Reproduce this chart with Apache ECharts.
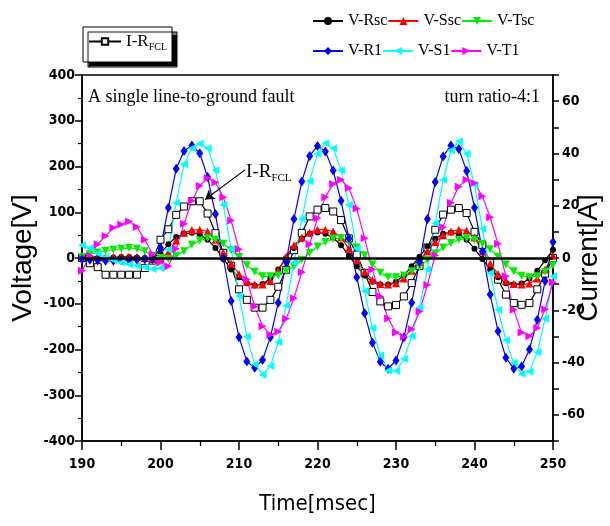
<!DOCTYPE html>
<html>
<head>
<meta charset="utf-8">
<script src="https://cdn.jsdelivr.net/npm/echarts@6/dist/echarts.min.js"></script>
<style>
html,body{margin:0;padding:0;background:#fff}
#chart{width:610px;height:526px}
</style>
</head>
<body>
<div id="chart"></div>
<script>
// time axis, 1 ms steps
const times = [190,191,192,193,194,195,196,197,198,199,200,201,202,203,204,205,206,207,208,209,210,
  211,212,213,214,215,216,217,218,219,220,221,222,223,224,225,226,227,228,229,230,
  231,232,233,234,235,236,237,238,239,240,241,242,243,244,245,246,247,248,249,250];

// voltages [V]
const vRsc = [2,1,0,0,1,2,2,1,0,0,10,30,46,53,55,52,40,22,-2,-25,-42,
  -55,-60,-57,-45,-25,0,22,42,53,56,53,44,28,5,-18,-38,-52,-58,-58,-52,
  -38,-18,3,25,42,53,56,52,40,20,-2,-25,-42,-55,-58,-56,-45,-28,-5,18];
const vSsc = [6,4,2,1,2,3,3,2,0,-2,0,12,38,55,61,62,58,40,12,-12,-35,
  -52,-58,-58,-50,-28,3,28,45,56,62,62,58,45,20,-5,-30,-48,-57,-58,-55,
  -45,-28,-8,15,35,50,58,62,60,45,15,-12,-35,-50,-57,-58,-56,-45,-25,5];
const vTsc = [2,8,12,16,18,20,22,20,15,5,0,-2,5,15,29,38,43,40,31,17,2,
  -16,-30,-40,-40,-38,-29,-18,-4,11,25,35,42,43,36,23,6,-14,-32,-42,-42,
  -38,-29,-19,-4,10,23,33,40,43,40,31,19,3,-14,-29,-39,-42,-40,-30,-16];
const vR1 = [-3,-4,-5,-6,-6,-5,-5,-4,-3,-2,22,110,195,234,246,229,177,96,0,-94,-173,
  -226,-240,-223,-173,-98,-9,85,167,223,245,233,191,125,43,-42,-121,-185,-227,-242,-224,
  -174,-98,-9,85,166,222,246,238,190,110,15,-80,-160,-218,-242,-237,-200,-135,-50,35];
const vS1 = [28,22,10,2,-5,-10,-14,-17,-20,-24,-22,18,121,205,240,250,240,192,116,20,-83,
  -172,-233,-255,-236,-184,-104,-10,85,168,228,251,240,192,116,20,-72,-153,-213,-246,-247,
  -221,-171,-108,-25,76,171,235,255,228,160,64,-33,-113,-180,-229,-253,-248,-206,-133,-40];
const vT1 = [-28,5,30,48,66,73,80,68,40,8,-10,-18,20,75,125,158,175,165,133,82,19,
  -47,-106,-149,-168,-161,-133,-88,-31,30,87,133,162,171,153,108,43,-25,-84,-132,-163,
  -172,-156,-117,-59,6,67,121,156,171,164,135,89,31,-40,-113,-163,-171,-153,-112,-53];
// current [A]
const iFCL = [0,-2,-3.5,-6.4,-6.4,-6.4,-6.4,-6.4,-3.8,-1,7,11,16.5,19.7,21.7,21.7,17,9.5,2,-3,-12,
  -16,-19,-19,-16,-11,-4.5,3,9.6,15.9,18.5,19.1,17.8,14.5,7.5,1.3,-5.7,-13,-16.6,-18.5,-18,
  -14.7,-9.6,-3,4,10.8,16.6,18.5,19.1,17.2,10,5,-1.5,-8.3,-14,-17.2,-17.9,-17.2,-12,-6,0];

const NARROW = "'Liberation Sans Narrow', 'DejaVu Sans Condensed', sans-serif";
const SERIF = "'Liberation Serif', serif";
const fclRich = {
  a: { fontFamily: SERIF, fontSize: 17, color: '#000' },
  b: { fontFamily: SERIF, fontSize: 10, color: '#000', padding: [11, 0, 0, 0] }
};
const labRich = {
  a: { fontFamily: SERIF, fontSize: 19, color: '#000' },
  b: { fontFamily: SERIF, fontSize: 11, color: '#000', padding: [12, 0, 0, 0] }
};

const pairs = arr => times.map((t, i) => [t, arr[i]]);

function volt(name, data, color, symbol, size, rotate) {
  return {
    name: name, type: 'line', data: pairs(data), yAxisIndex: 0,
    symbol: symbol, symbolSize: size, symbolRotate: rotate || 0,
    lineStyle: { color: color, width: 1.2 },
    itemStyle: { color: color, borderWidth: 0 }
  };
}

const chart = echarts.init(document.getElementById('chart'));
const axisLine = { show: true, onZero: false, lineStyle: { color: '#000', width: 1.5 } };
const legendText = { fontFamily: SERIF, fontSize: 16, color: '#000', width: 41 };

const option = {
  animation: false,
  backgroundColor: '#fff',
  grid: {
    left: 82, right: 57, top: 75, bottom: 85, outerBoundsMode: 'none', containLabel: false,
    show: true, borderColor: '#000', borderWidth: 1.5
  },
  legend: [
    {
      data: ['I-RFCL'], left: 83, top: 27,
      backgroundColor: '#fff', borderColor: '#000', borderWidth: 1,
      shadowColor: '#000', shadowOffsetX: 5, shadowOffsetY: 5, shadowBlur: 1,
      padding: [6, 5, 10, 5], itemWidth: 32, itemHeight: 8,
      formatter: () => '{a|I-R}{b|FCL}',
      textStyle: { rich: fclRich }
    },
    {
      data: ['V-Rsc', 'V-Ssc', 'V-Tsc'], left: 307, top: 8, itemWidth: 30, itemHeight: 10, itemGap: 0,
      textStyle: legendText
    },
    {
      data: ['V-R1', 'V-S1', 'V-T1'], left: 307, top: 38, itemWidth: 30, itemHeight: 10, itemGap: 0,
      textStyle: legendText
    }
  ],
  xAxis: {
    type: 'value', min: 190, max: 250, interval: 10,
    axisLine: axisLine,
    axisTick: { show: true, length: 9, lineStyle: { color: '#000', width: 1.5 } },
    minorTick: { show: true, splitNumber: 2, length: 5, lineStyle: { color: '#000', width: 1.2 } },
    axisLabel: { color: '#000', fontFamily: NARROW, fontWeight: 'bold', fontSize: 14, margin: 16 },
    splitLine: { show: false },
    name: 'Time[msec]', nameLocation: 'middle', nameGap: 52, nameMoveOverlap: false,
    nameTextStyle: { fontFamily: NARROW, fontSize: 22, color: '#000' }
  },
  yAxis: [
    {
      type: 'value', min: -400, max: 400, interval: 100, position: 'left',
      axisLine: axisLine,
      axisTick: { show: true, length: 7, lineStyle: { color: '#000', width: 1.5 } },
      minorTick: { show: true, splitNumber: 2, length: 4, lineStyle: { color: '#000', width: 1.2 } },
      axisLabel: { color: '#000', fontFamily: NARROW, fontWeight: 'bold', fontSize: 14, margin: 7 },
      splitLine: { show: false },
      name: 'Voltage[V]', nameLocation: 'middle', nameGap: 45, nameMoveOverlap: false,
      nameTextStyle: { fontFamily: "'Liberation Sans', sans-serif", fontSize: 28, color: '#000' }
    },
    {
      type: 'value', min: -70, max: 70, interval: 10, position: 'right',
      axisLine: axisLine,
      axisTick: { show: true, length: 6, lineStyle: { color: '#000', width: 1.5 } },
      axisLabel: {
        color: '#000', fontFamily: NARROW, fontWeight: 'bold', fontSize: 14, margin: 9,
        formatter: v => (v % 20 === 0 ? String(v) : '')
      },
      splitLine: { show: false },
      name: 'Current[A]', nameLocation: 'middle', nameGap: 22, nameMoveOverlap: false,
      nameTextStyle: { fontFamily: "'Liberation Sans', sans-serif", fontSize: 28, color: '#000' }
    }
  ],
  graphic: [
    { type: 'text', left: 88, top: 88, style: { text: 'A single line-to-ground fault', font: "18px 'Liberation Serif'", fill: '#000' } },
    { type: 'text', right: 70, top: 88, style: { text: 'turn ratio-4:1', font: "18px 'Liberation Serif'", fill: '#000' } }
  ],
  series: [
    {
      name: 'I-RFCL', type: 'line', data: pairs(iFCL), yAxisIndex: 1,
      symbol: 'rect', symbolSize: 7,
      lineStyle: { color: '#000', width: 1.2 },
      itemStyle: { color: '#fff', borderColor: '#000', borderWidth: 1 },
      markLine: {
        silent: true, symbol: ['none', 'arrow'], symbolSize: 9,
        lineStyle: { color: '#000', width: 1.2, type: 'solid' },
        label: { show: false },
        data: [[{ coord: [210.8, 33.8] }, { coord: [205.7, 22.4] }]]
      },
      markPoint: {
        silent: true, symbol: 'circle', symbolSize: 0,
        label: { show: true, position: 'inside', formatter: '{a|I-R}{b|FCL}', rich: labRich },
        data: [{ coord: [213.8, 33] }]
      }
    },
    volt('V-Rsc', vRsc, '#000000', 'circle', 6),
    volt('V-Ssc', vSsc, '#ff0000', 'triangle', 8),
    volt('V-Tsc', vTsc, '#00ee00', 'triangle', 8, 180),
    Object.assign(volt('V-R1', vR1, '#0000ff', 'diamond', [7, 10]), {
      markLine: {
        silent: true, symbol: ['none', 'none'],
        lineStyle: { color: '#000', width: 2.5, type: 'solid' },
        label: { show: false },
        data: [{ yAxis: 0 }]
      }
    }),
    volt('V-S1', vS1, '#00ffff', 'triangle', 8, 90),
    volt('V-T1', vT1, '#ff00ff', 'triangle', 8, -90)
  ]
};
chart.setOption(option);
</script>
</body>
</html>
